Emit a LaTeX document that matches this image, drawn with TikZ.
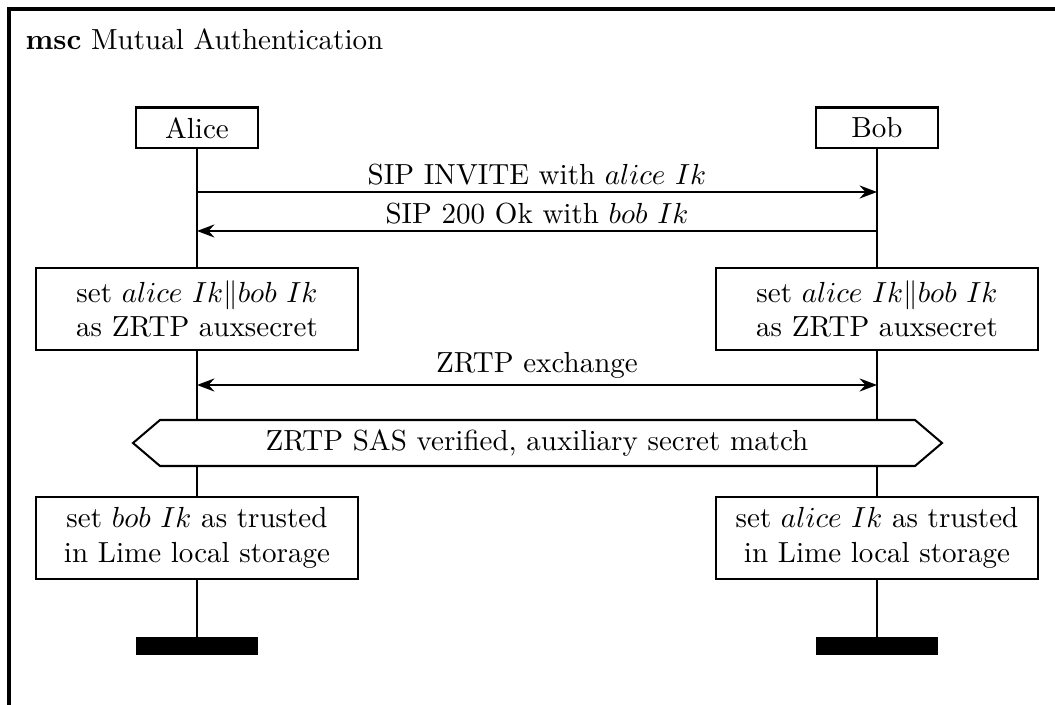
\documentclass[tikz,border=0pt]{standalone}
\usetikzlibrary{arrows.meta}
\begin{document}
\begin{tikzpicture}[x=0.0121cm,y=-0.0121cm,
  >={Stealth[length=6pt,width=4.5pt,inset=2pt]},
  inst/.style={draw,line width=0.7pt,minimum width=41.7pt,minimum height=14.1pt,inner sep=0pt},
  act/.style={draw,fill=white,line width=0.7pt,minimum width=110.9pt,minimum height=28.2pt,align=center,inner sep=0pt},
  life/.style={line width=0.7pt},
  msg/.style={line width=0.7pt,->},
  dmsg/.style={line width=0.7pt,<->},
  lbl/.style={above=1pt,inner sep=1pt},
  endbar/.style={fill=black,draw=black,minimum width=41.7pt,minimum height=5.5pt,inner sep=0pt}]
\useasboundingbox (0,0) rectangle (1055,705);
% frame
\draw[line width=1.1pt] (9,705) -- (9,9) -- (1060,9);
\node[anchor=base west,inner sep=0pt] (title) at (25,50) {\textbf{msc} Mutual Authentication};
% instances
\node[inst] (alice) at (197,128) {Alice};
\node[inst] (bob) at (877,128) {Bob};
% lifelines
\node[endbar] (aend) at (197,646) {};
\node[endbar] (bend) at (877,646) {};
\node[act] (a1) at (197,309) {set $alice\ Ik\|bob\ Ik$\\as ZRTP auxsecret};
\node[act] (b1) at (877,309) {set $alice\ Ik\|bob\ Ik$\\as ZRTP auxsecret};
\node[act] (a2) at (197,538) {set $bob\ Ik$ as trusted\\in Lime local storage};
\node[act] (b2) at (877,538) {set $alice\ Ik$ as trusted\\in Lime local storage};
\draw[life] (alice.south) -- (a1.north) (a1.south) -- (a2.north) (a2.south) -- (aend.north);
\draw[life] (bob.south) -- (b1.north) (b1.south) -- (b2.north) (b2.south) -- (bend.north);
% condition
\draw[fill=white,line width=0.7pt] (133,443) -- (160,420) -- (915,420) -- (942,443) -- (915,466) -- (160,466) -- cycle;
\node[inner sep=0pt] (cond) at (537,443) {ZRTP SAS verified, auxiliary secret match};
% messages
\coordinate (a1y) at (197,192); \coordinate (b1y) at (877,192);
\coordinate (a2y) at (197,231); \coordinate (b2y) at (877,231);
\coordinate (a3y) at (197,385); \coordinate (b3y) at (877,385);
\draw[msg] (a1y) -- node[lbl] (m1) {SIP INVITE with $alice\ Ik$} (b1y);
\draw[msg] (b2y) -- node[lbl] (m2) {SIP 200 Ok with $bob\ Ik$} (a2y);
\draw[dmsg] (a3y) -- node[lbl] (m3) {ZRTP exchange} (b3y);
\end{tikzpicture}
\end{document}
